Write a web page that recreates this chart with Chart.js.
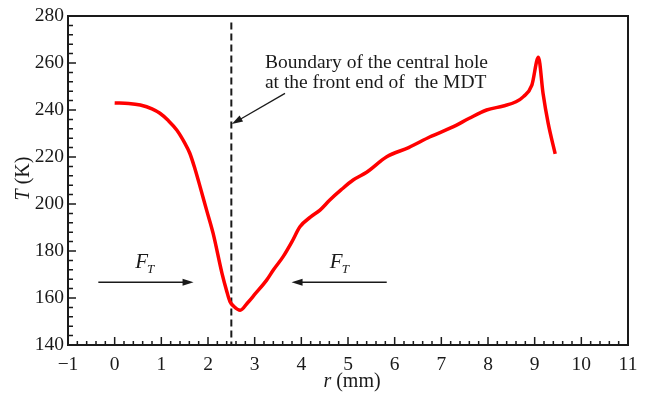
<!DOCTYPE html>
<html>
<head>
<meta charset="utf-8">
<script src="https://cdn.jsdelivr.net/npm/chart.js@4.4.1/dist/chart.umd.min.js"></script>
<style>
  html, body { margin: 0; padding: 0; background: #fff; }
  #wrap { width: 652px; height: 395px; }
</style>
</head>
<body>
<div id="wrap"><canvas id="tempChart"></canvas></div>
<script>
// temperature profile
var rValues = [0, 0.3, 0.55, 0.8, 0.97, 1.15, 1.33, 1.5, 1.61, 1.72, 1.83, 1.97, 2.11, 2.3, 2.4, 2.47, 2.55, 2.69, 2.85, 3.0, 3.26, 3.4, 3.61, 3.8, 3.97, 4.2, 4.4, 4.61, 4.85, 5.11, 5.4, 5.83, 6.3, 6.76, 7.26, 7.6, 7.97, 8.33, 8.6, 8.76, 8.94, 9.08, 9.18, 9.29, 9.44]
var tValues = [243, 242.8, 242.1, 240.5, 238.6, 235.5, 231.5, 226, 221.6, 215, 207.4, 197.4, 187.5, 170.5, 163, 158.5, 156.5, 154.8, 158, 161.5, 167.7, 171.9, 177.6, 184, 190.3, 194.5, 197.4, 201.7, 206, 210.2, 213.5, 220.1, 224, 228.6, 232.9, 236.5, 240, 241.7, 243.5, 245.7, 250.6, 262.4, 247, 234.3, 221.3]

var boundaryR = [2.5, 2.5]
var boundaryT = [277.2, 140]

var xTicks = [-1, 0, 1, 2, 3, 4, 5, 6, 7, 8, 9, 10, 11]
var yTicks = [140, 160, 180, 200, 220, 240, 260, 280]

var serif = '"Liberation Serif", "Times New Roman", serif'
var ink = '#1a1a1a'

function toPoints(xs, ys){
  return xs.map(function(x, i){ return {x: x, y: ys[i]} })
}

function arrow(ctx, x1, y1, x2, y2){
  var ang = Math.atan2(y2 - y1, x2 - x1)
  var hl = 11, hw = 3.5
  ctx.beginPath()
  ctx.moveTo(x1, y1)
  ctx.lineTo(x2 - Math.cos(ang) * hl * 0.8, y2 - Math.sin(ang) * hl * 0.8)
  ctx.stroke()
  ctx.beginPath()
  ctx.moveTo(x2, y2)
  ctx.lineTo(x2 - Math.cos(ang) * hl - Math.sin(ang) * hw, y2 - Math.sin(ang) * hl + Math.cos(ang) * hw)
  ctx.lineTo(x2 - Math.cos(ang) * hl + Math.sin(ang) * hw, y2 - Math.sin(ang) * hl - Math.cos(ang) * hw)
  ctx.closePath()
  ctx.fill()
}

function forceLabel(ctx, x, y){
  ctx.textAlign = 'left'
  ctx.textBaseline = 'middle'
  ctx.font = 'italic 21px ' + serif
  ctx.fillText('F', x, y)
  var w = ctx.measureText('F').width
  ctx.font = 'italic 13px ' + serif
  ctx.fillText('T', x + w - 1, y + 7)
}

var decor = {
  id: 'decor',
  afterDraw: function(chart){
    var ctx = chart.ctx
    var sx = chart.scales.x, sy = chart.scales.y
    var a = chart.chartArea
    ctx.save()
    ctx.strokeStyle = ink
    ctx.fillStyle = ink

    // inward ticks
    ctx.lineWidth = 1.5
    ctx.beginPath()
    for (var i = 0; i <= 60; i++){
      var px = sx.getPixelForValue(-1 + i * 0.2)
      var len = i % 5 == 0 ? 8 : 4
      ctx.moveTo(px, a.bottom)
      ctx.lineTo(px, a.bottom - len)
    }
    for (var j = 0; j <= 35; j++){
      var py = sy.getPixelForValue(140 + j * 4)
      var l2 = j % 5 == 0 ? 8 : 5
      ctx.moveTo(a.left, py)
      ctx.lineTo(a.left + l2, py)
    }
    ctx.stroke()

    // frame
    ctx.lineWidth = 2
    ctx.strokeRect(a.left, a.top, a.right - a.left, a.bottom - a.top)

    // boundary note
    ctx.font = '19.5px ' + serif
    ctx.textAlign = 'left'
    ctx.textBaseline = 'middle'
    ctx.fillText('Boundary of the central hole', sx.getPixelForValue(3.22), sy.getPixelForValue(260))
    ctx.fillText('at the front end of  the MDT', sx.getPixelForValue(3.22), sy.getPixelForValue(251.5))
    ctx.lineWidth = 1.3
    arrow(ctx, sx.getPixelForValue(3.65), sy.getPixelForValue(247.1), sx.getPixelForValue(2.51), sy.getPixelForValue(234))

    // force arrows
    var ay = sy.getPixelForValue(166.7)
    ctx.lineWidth = 1.5
    arrow(ctx, sx.getPixelForValue(-0.35), ay, sx.getPixelForValue(1.69), ay)
    arrow(ctx, sx.getPixelForValue(5.83), ay, sx.getPixelForValue(3.79), ay)
    forceLabel(ctx, sx.getPixelForValue(0.44), sy.getPixelForValue(175))
    forceLabel(ctx, sx.getPixelForValue(4.61), sy.getPixelForValue(175))

    // axis titles
    ctx.textBaseline = 'middle'
    ctx.font = 'italic 20px ' + serif
    var wr = ctx.measureText('r').width
    ctx.font = '20px ' + serif
    var wmm = ctx.measureText(' (mm)').width
    var cx = (a.left + a.right) / 2 + 4 - (wr + wmm) / 2
    ctx.font = 'italic 20px ' + serif
    ctx.fillText('r', cx, 382)
    ctx.font = '20px ' + serif
    ctx.fillText(' (mm)', cx + wr, 382)

    ctx.translate(24, (a.top + a.bottom) / 2 - 2)
    ctx.rotate(-Math.PI / 2)
    ctx.font = 'italic 20px ' + serif
    var wt = ctx.measureText('T').width
    ctx.font = '20px ' + serif
    var wk = ctx.measureText(' (K)').width
    var cy = -(wt + wk) / 2
    ctx.font = 'italic 20px ' + serif
    ctx.fillText('T', cy, 0)
    ctx.font = '20px ' + serif
    ctx.fillText(' (K)', cy + wt, 0)
    ctx.restore()
  }
}

var ctx = document.getElementById('tempChart').getContext('2d')
var myChart = new Chart(ctx, {
  type: 'line',
  plugins: [decor],
  data: {
    datasets: [{
      data: toPoints(rValues, tValues),
      borderColor: '#ff0000',
      borderWidth: 3.5,
      pointRadius: 0,
      cubicInterpolationMode: 'monotone',
      fill: false
    }, {
      data: toPoints(boundaryR, boundaryT),
      borderColor: ink,
      borderWidth: 2,
      borderDash: [7, 4],
      pointRadius: 0,
      fill: false
    }]
  },
  options: {
    responsive: true,
    maintainAspectRatio: false,
    animation: false,
    layout: { padding: { left: 0, right: 24, top: 16, bottom: 0 } },
    plugins: {
      legend: { display: false },
      tooltip: { enabled: false }
    },
    scales: {
      x: {
        type: 'linear',
        min: -1,
        max: 11,
        grid: { display: false, drawTicks: false },
        border: { display: false },
        afterBuildTicks: function(scale){
          scale.ticks = xTicks.map(function(v){ return {value: v} })
        },
        afterFit: function(scale){ scale.height = 50 },
        ticks: {
          padding: 8,
          maxRotation: 0,
          autoSkip: false,
          color: ink,
          font: { family: serif, size: 19.5 },
          callback: function(v){ return String(v).replace('-', '\u2212') }
        }
      },
      y: {
        type: 'linear',
        min: 140,
        max: 280,
        grid: { display: false, drawTicks: false },
        border: { display: false },
        afterBuildTicks: function(scale){
          scale.ticks = yTicks.map(function(v){ return {value: v} })
        },
        afterFit: function(scale){ scale.width = 68 },
        ticks: {
          padding: 4,
          color: ink,
          font: { family: serif, size: 19.5 }
        }
      }
    }
  }
})
</script>
</body>
</html>
